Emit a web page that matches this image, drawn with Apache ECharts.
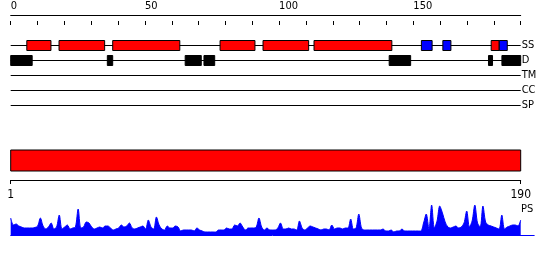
<!DOCTYPE html>
<html><head><meta charset="utf-8">
<script src="https://cdn.jsdelivr.net/npm/echarts@6/dist/echarts.min.js"></script>
<style>html,body{margin:0;padding:0;background:#fff}#c{width:550px;height:260px}</style>
</head><body><div id="c"></div>
<script>
const seqLength = 190;
const trackNames = ['SS', 'D', 'TM', 'CC', 'SP'];
const topTickLabels = [0, 50, 100, 150];
const bottomTickLabels = [1, 190];
const helixSegments = [[6, 15], [18, 35], [38, 63], [78, 91], [94, 111], [113, 142], [179, 182]];
const strandSegments = [[153, 157], [161, 164], [182, 185]];
const disorderSegments = [[0, 8], [36, 38], [65, 71], [72, 76], [141, 149], [178, 179.5], [183, 190]];
const domainRange = [1, 190];
const psValues = [
  17, 10, 11, 9, 8, 7, 7, 7, 7, 7.5,
  9, 17, 9, 6, 8, 12, 6, 8, 20, 6,
  8, 10, 6, 7, 8, 26, 7, 8, 13, 12,
  8, 6, 7, 8, 7, 9, 9, 7, 5, 6,
  7, 10, 8, 9, 12, 7, 6, 7, 8, 9,
  6, 15, 8, 6, 18, 10, 6, 5, 9, 7,
  7, 9, 8, 4, 5, 5, 5, 5, 4, 7,
  5, 4, 3, 3, 3, 3, 3, 5, 5, 5,
  7, 6, 6, 10, 9, 12, 8, 5, 7, 7,
  7, 8, 17, 8, 5, 7, 5, 5, 5, 7,
  12, 6, 6, 7, 6, 6, 5, 14, 7, 5,
  7, 9, 8, 7, 6, 5, 6, 6, 5, 10,
  6, 7, 7, 6, 7, 7, 16, 6, 7, 21,
  7, 5, 5, 5, 5, 5, 5, 5, 6, 4,
  4, 5, 3, 4, 4, 6, 4, 4, 4, 4,
  4, 4, 4, 12, 21, 6, 30, 7, 14, 29,
  22, 13, 8, 7, 8, 9, 7, 8, 12, 24,
  8, 14, 30, 12, 8, 29, 13, 10, 9, 8,
  7, 6, 20, 6, 8, 9, 10, 10, 9, 15
];

const FONT = "'Liberation Sans Narrow', 'DejaVu Sans Condensed', 'DejaVu Sans', sans-serif";
const chart = echarts.init(document.getElementById('c'), null, { renderer: 'canvas' });

function boxRender(h) {
  return function (params, api) {
    const s = api.coord([api.value(0), api.value(2)]);
    const e = api.coord([api.value(1), api.value(2)]);
    return {
      type: 'rect',
      shape: { x: s[0], y: s[1] - h / 2, width: e[0] - s[0], height: h },
      style: api.style({ stroke: '#000', lineWidth: 1 })
    };
  };
}

function lineOnlyAxis(gridIndex, min, max, position, color) {
  return {
    gridIndex: gridIndex, type: 'value', min: min, max: max, position: position,
    axisLine: { show: true, onZero: false, lineStyle: { color: color, width: 1 } },
    axisTick: { show: false }, axisLabel: { show: false }, splitLine: { show: false }
  };
}

chart.setOption({
  animation: false,
  textStyle: { fontFamily: FONT },
  title: {
    text: 'PS', left: 516, top: 199,
    textStyle: { fontSize: 11, fontWeight: 'normal', color: '#000', fontFamily: FONT }
  },
  grid: [
    { left: 10.7, top: 38, width: 510, height: 75 },
    { left: 10.7, top: 150, width: 510, height: 21 },
    { left: 10.7, top: 205, width: 510 * 194 / 189, height: 30 },
    { left: 10.7, top: 15, width: 510, height: 10 },
    { left: 10.7, top: 170, width: 510, height: 10 }
  ],
  xAxis: [
    { gridIndex: 0, type: 'value', min: 0, max: seqLength, show: false },
    { gridIndex: 1, type: 'value', min: domainRange[0], max: domainRange[1], show: false },
    lineOnlyAxis(2, 1, 195, 'bottom', '#0000ff'),
    {
      gridIndex: 3, type: 'value', min: 0, max: seqLength, interval: 10, position: 'top',
      axisLine: { show: false },
      axisTick: { show: true, length: 4, lineStyle: { color: '#000', width: 1 } },
      axisLabel: {
        color: '#000', fontSize: 11, margin: 3, align: 'left',
        formatter: v => topTickLabels.includes(v) ? String(v) : ''
      },
      splitLine: { show: false }
    },
    {
      gridIndex: 4, type: 'value', min: domainRange[0], max: domainRange[1], position: 'bottom',
      axisLine: { show: false },
      axisTick: { show: true, length: 4, customValues: bottomTickLabels, lineStyle: { color: '#000', width: 1 } },
      axisLabel: { color: '#000', fontSize: 12, margin: 9, customValues: bottomTickLabels },
      splitLine: { show: false }
    },
    lineOnlyAxis(3, 0, seqLength, 'top', '#000'),
    lineOnlyAxis(4, domainRange[0], domainRange[1], 'bottom', '#000')
  ],
  yAxis: [
    {
      gridIndex: 0, type: 'category', data: trackNames, inverse: true, position: 'right',
      axisLine: { show: false }, axisTick: { show: false },
      axisLabel: { color: '#000', fontSize: 11, margin: 1 }
    },
    { gridIndex: 1, type: 'value', min: 0, max: 1, show: false },
    { gridIndex: 2, type: 'value', min: 0, max: 30, show: false },
    { gridIndex: 3, type: 'value', min: 0, max: 1, show: false },
    { gridIndex: 4, type: 'value', min: 0, max: 1, show: false }
  ],
  series: [
    {
      type: 'custom', xAxisIndex: 0, yAxisIndex: 0, z: 1,
      encode: { x: [0, 1], y: 2 },
      data: trackNames.map((n, i) => [0, seqLength, i]),
      renderItem: function (params, api) {
        const s = api.coord([api.value(0), api.value(2)]);
        const e = api.coord([api.value(1), api.value(2)]);
        return { type: 'line', shape: { x1: s[0], y1: s[1], x2: e[0], y2: e[1] }, style: { stroke: '#000', lineWidth: 1 } };
      }
    },
    {
      type: 'custom', xAxisIndex: 0, yAxisIndex: 0, z: 2,
      encode: { x: [0, 1], y: 2 }, itemStyle: { color: '#ff0000' },
      data: helixSegments.map(s => [s[0], s[1], 0]), renderItem: boxRender(10)
    },
    {
      type: 'custom', xAxisIndex: 0, yAxisIndex: 0, z: 2,
      encode: { x: [0, 1], y: 2 }, itemStyle: { color: '#0000ff' },
      data: strandSegments.map(s => [s[0], s[1], 0]), renderItem: boxRender(10)
    },
    {
      type: 'custom', xAxisIndex: 0, yAxisIndex: 0, z: 2,
      encode: { x: [0, 1], y: 2 }, itemStyle: { color: '#000' },
      data: disorderSegments.map(s => [s[0], s[1], 1]), renderItem: boxRender(10)
    },
    {
      type: 'custom', xAxisIndex: 1, yAxisIndex: 1,
      encode: { x: [0, 1] }, itemStyle: { color: '#ff0000' },
      data: [[domainRange[0], domainRange[1]]],
      renderItem: function (params, api) {
        const s = api.coord([api.value(0), 1]);
        const e = api.coord([api.value(1), 0]);
        return { type: 'rect', shape: { x: s[0], y: s[1], width: e[0] - s[0], height: e[1] - s[1] }, style: api.style({ stroke: '#000', lineWidth: 1 }) };
      }
    },
    {
      type: 'line', xAxisIndex: 2, yAxisIndex: 2,
      data: psValues.map((v, i) => [i + 1, v]),
      showSymbol: false, smooth: 0.3,
      lineStyle: { color: '#0000ff', width: 1 },
      areaStyle: { color: '#0000ff', opacity: 1 }
    }
  ]
});
</script></body></html>
